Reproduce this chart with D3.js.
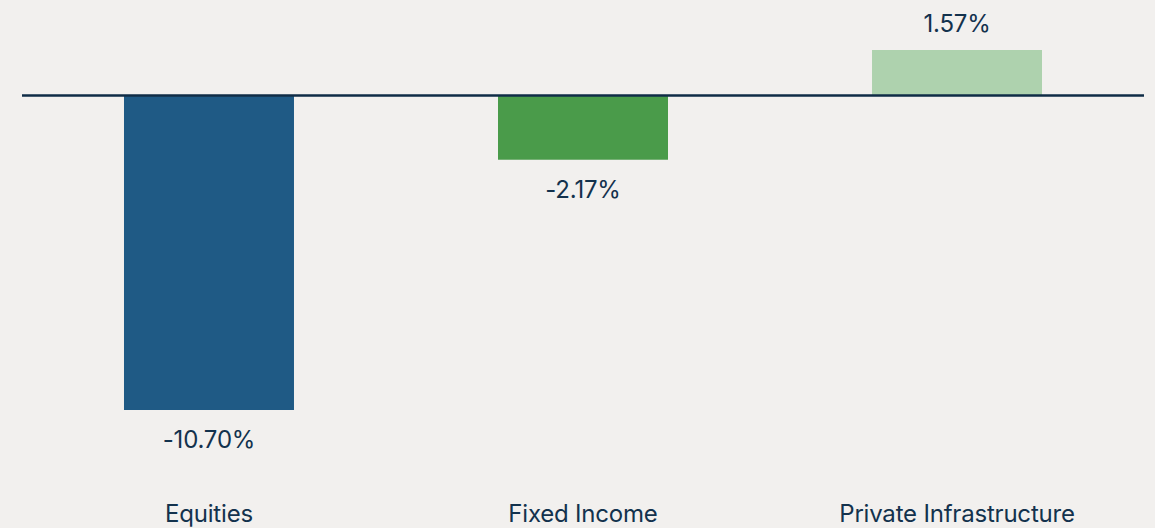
<!DOCTYPE html>
<html lang="en">
<head>
  <meta charset="UTF-8">
  <title>Returns by Asset Class</title>
  <script src="https://d3js.org/d3.v7.min.js"></script>
  <style>
    html, body { margin: 0; padding: 0; background: #f2f0ee; }
    svg { display: block; }
    .label { font-family: Inter, "Open Sans", sans-serif; font-size: 24px; font-weight: 400; fill: #13324d; letter-spacing: -0.2px; }
  </style>
</head>
<body>
  <div id="chart"></div>
  <script>
    // Data
    const categories = ["Equities", "Fixed Income", "Private Infrastructure"];
    const values = [-10.70, -2.17, 1.57];
    const valueLabels = ["-10.70%", "-2.17%", "1.57%"];
    const colors = ["#1f5a85", "#4a9b4a", "#aed2ae"];

    const width = 1155, height = 528;

    const svg = d3.select("#chart")
                  .append("svg")
                  .attr("width", width)
                  .attr("height", height);

    // Scales
    const x = d3.scaleBand()
                .domain(categories)
                .range([22, 1144])
                .paddingInner(0.5455)
                .paddingOuter(0.2727);

    const y = d3.scaleLinear()
                .domain([-10.70, 1.57])
                .range([410, 50]);

    const data = categories.map((c, i) => ({ cat: c, value: values[i], label: valueLabels[i], color: colors[i] }));

    // Bars
    svg.selectAll(".bar")
       .data(data)
       .enter()
       .append("rect")
       .attr("class", "bar")
       .attr("x", d => x(d.cat))
       .attr("y", d => Math.min(y(d.value), y(0)))
       .attr("width", x.bandwidth())
       .attr("height", d => Math.abs(y(d.value) - y(0)))
       .attr("fill", d => d.color);

    // Zero line
    svg.append("line")
       .attr("x1", 22)
       .attr("x2", 1144)
       .attr("y1", y(0) - 0.5)
       .attr("y2", y(0) - 0.5)
       .attr("stroke", "#0f2c46")
       .attr("stroke-width", 2.6);

    // Value labels
    svg.selectAll(".value")
       .data(data)
       .enter()
       .append("text")
       .attr("class", "label")
       .attr("x", d => x(d.cat) + x.bandwidth() / 2)
       .attr("y", d => d.value < 0 ? y(d.value) + 38 : y(d.value) - 18)
       .attr("text-anchor", "middle")
       .text(d => d.label);

    // Category labels
    svg.selectAll(".cat")
       .data(data)
       .enter()
       .append("text")
       .attr("class", "label")
       .attr("x", d => x(d.cat) + x.bandwidth() / 2)
       .attr("y", 522)
       .attr("text-anchor", "middle")
       .text(d => d.cat);
  </script>
</body>
</html>
